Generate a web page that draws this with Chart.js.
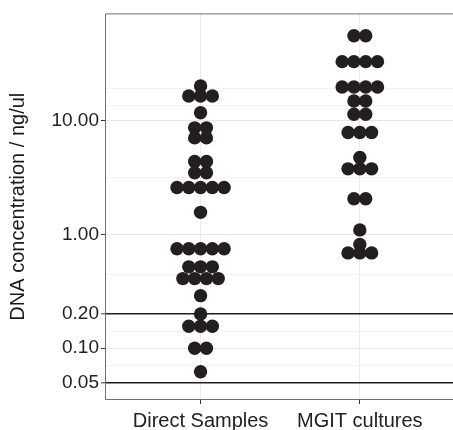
<!DOCTYPE html>
<html>
<head>
<meta charset="utf-8">
<script src="https://cdn.jsdelivr.net/npm/chart.js@4.4.1/dist/chart.umd.min.js"></script>
<style>
  html, body { margin: 0; padding: 0; background: #fff; overflow: hidden; }
  #wrap { width: 453px; height: 430px; position: relative; }
  canvas { display: block; }
</style>
</head>
<body>
<div id="wrap"><canvas id="dna"></canvas></div>
<script>
// categories and values (ng/ul)
var groups = ["Direct Samples", "MGIT cultures"];
var directValues = [20.3, 16.6, 16.6, 16.6, 11.8, 8.7, 8.7, 7.1, 7.1, 4.4, 4.4, 3.5, 3.5,
    2.6, 2.6, 2.6, 2.6, 2.6, 1.57, 0.75, 0.75, 0.75, 0.75, 0.75, 0.52, 0.52, 0.52,
    0.41, 0.41, 0.41, 0.41, 0.29, 0.2, 0.156, 0.156, 0.156, 0.1, 0.1, 0.062];
var mgitValues = [56.2, 56.2, 33.3, 33.3, 33.3, 33.3, 19.9, 19.9, 19.9, 19.9, 15.0, 15.0,
    11.45, 11.45, 7.93, 7.93, 7.93, 4.77, 3.79, 3.79, 3.79, 2.07, 2.07, 1.10, 0.82,
    0.69, 0.69, 0.69];
var yTicks = [0.05, 0.1, 0.2, 1, 10];
var yMinorTicks = [0.0707, 0.141, 0.447, 3.16, 13.8, 19.5];
var cutoffLines = [0.05, 0.2];

// simple beeswarm: equal values are spread side by side around the group centre
function swarm(values, centre) {
    var counts = {};
    values.forEach(function (v) { counts[v] = (counts[v] || 0) + 1; });
    var seen = {};
    return values.map(function (v) {
        var i = seen[v] || 0;
        seen[v] = i + 1;
        return { x: centre + (i - (counts[v] - 1) / 2) * 0.074, y: v };
    });
}

var points = swarm(directValues, 0).concat(swarm(mgitValues, 1));

var panelBorder = {
    id: "panelBorder",
    afterDraw: function (chart) {
        var a = chart.chartArea;
        var c = chart.ctx;
        c.save();
        c.strokeStyle = "#6f6f6f";
        c.lineWidth = 1;
        c.beginPath();
        c.moveTo(a.right + 2, a.top + 0.5);
        c.lineTo(a.left + 0.5, a.top + 0.5);
        c.lineTo(a.left + 0.5, a.bottom - 0.5);
        c.lineTo(a.right + 2, a.bottom - 0.5);
        c.stroke();
        c.restore();
    }
};

var font = "'Liberation Sans', Arial, Helvetica, sans-serif";

new Chart(document.getElementById("dna"), {
    type: "scatter",
    data: {
        datasets: [{
            label: "DNA",
            data: points,
            pointRadius: 6.7,
            pointHoverRadius: 6.7,
            pointBorderWidth: 0,
            backgroundColor: "#231f20",
            borderColor: "#231f20"
        }]
    },
    options: {
        responsive: true,
        maintainAspectRatio: false,
        animation: false,
        layout: { autoPadding: false, padding: { top: 12, right: 0, left: 0, bottom: 0 } },
        plugins: {
            legend: { display: false },
            tooltip: { enabled: false }
        },
        scales: {
            x: {
                type: "linear",
                min: -0.6,
                max: 1.585,
                afterBuildTicks: function (scale) {
                    scale.ticks = groups.map(function (g, i) { return { value: i }; });
                },
                afterFit: function (scale) { scale.height = 30; },
                ticks: {
                    autoSkip: false,
                    maxRotation: 0,
                    padding: 5,
                    color: "#222",
                    font: { family: font, size: 20 },
                    callback: function (v) { return groups[v]; }
                },
                grid: {
                    color: "#ebebeb",
                    lineWidth: 1,
                    tickLength: 4,
                    tickColor: "#333",
                    tickWidth: 1
                },
                border: { display: false }
            },
            y: {
                type: "logarithmic",
                min: 0.035,
                max: 88.5,
                afterBuildTicks: function (scale) {
                    scale.ticks = yTicks.concat(yMinorTicks).sort(function (a, b) { return a - b; })
                        .map(function (v) { return { value: v }; });
                },
                afterFit: function (scale) { scale.width = 105; },
                title: {
                    display: true,
                    text: "DNA concentration / ng/ul",
                    color: "#1a1a1a",
                    font: { family: font, size: 20 },
                    padding: { top: 6, bottom: 0 }
                },
                ticks: {
                    autoSkip: false,
                    padding: 2,
                    color: "#222",
                    font: { family: font, size: 19 },
                    callback: function (v) {
                        return yTicks.indexOf(v) >= 0 ? v.toFixed(2) : "";
                    }
                },
                grid: {
                    color: function (ctx) {
                        var v = ctx.tick && ctx.tick.value;
                        if (cutoffLines.indexOf(v) >= 0) return "#231f20";
                        if (yTicks.indexOf(v) >= 0) return "#e6e6e6";
                        return "#f3f3f3";
                    },
                    lineWidth: function (ctx) {
                        var v = ctx.tick && ctx.tick.value;
                        if (cutoffLines.indexOf(v) >= 0) return 1.6;
                        return 1;
                    },
                    tickLength: 4,
                    tickColor: function (ctx) {
                        var v = ctx.tick && ctx.tick.value;
                        return yTicks.indexOf(v) >= 0 ? "#333" : "rgba(0,0,0,0)";
                    },
                    tickWidth: 1
                },
                border: { display: false }
            }
        }
    },
    plugins: [panelBorder]
});
</script>
</body>
</html>
